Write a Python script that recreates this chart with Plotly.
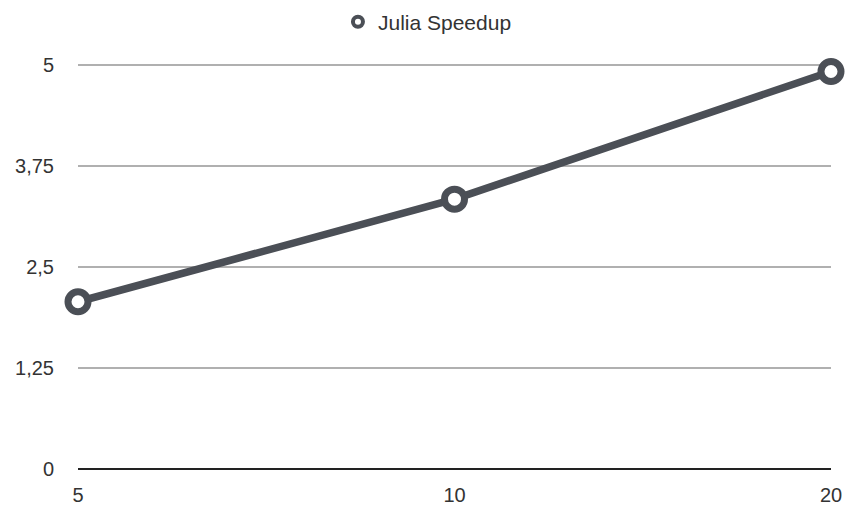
import plotly.graph_objects as go

# Thread counts (categorical x) and measured speedup
threads = ["5", "10", "20"]
speedup = [2.07, 3.34, 4.92]

y_ticks = [0, 1.25, 2.5, 3.75, 5]
y_tick_text = ["0", "1,25", "2,5", "3,75", "5"]

line_color = "#4b4f56"
text_color = "#333333"
font_family = "Liberation Sans, Arial, Helvetica, sans-serif"

fig = go.Figure()

# Main series: thick line with hollow circle markers
fig.add_trace(go.Scatter(
    x=threads, y=speedup,
    mode="lines+markers",
    line=dict(color=line_color, width=7.5),
    marker=dict(symbol="circle", size=20, color="white",
                line=dict(color=line_color, width=7)),
    cliponaxis=False,
    showlegend=False,
    name="Julia Speedup",
))

# Legend entry with a small hollow marker
fig.add_trace(go.Scatter(
    x=[None], y=[None],
    mode="markers",
    marker=dict(symbol="circle", size=10, color="white",
                line=dict(color=line_color, width=4)),
    name="Julia Speedup",
    showlegend=True,
))

fig.update_layout(
    width=847, height=513,
    margin=dict(l=78, r=16, t=61, b=44),
    paper_bgcolor="white",
    plot_bgcolor="white",
    font=dict(family=font_family, size=20, color=text_color),
    legend=dict(
        orientation="h",
        xref="container", yref="container",
        x=0.399, y=0.997, xanchor="left", yanchor="top",
        font=dict(size=21, color=text_color),
        itemwidth=30,
    ),
    xaxis=dict(
        type="category",
        range=[0, 2],
        automargin=False,
        showgrid=False,
        showline=False,
        zeroline=False,
        ticks="",
        ticklabelstandoff=12,
        tickfont=dict(size=20, color=text_color),
    ),
    yaxis=dict(
        range=[0, 5.05],
        automargin=False,
        tickvals=y_ticks,
        ticktext=y_tick_text,
        showgrid=True,
        gridcolor="#b0b0b0",
        gridwidth=2,
        zeroline=True,
        zerolinecolor="#222222",
        zerolinewidth=2,
        showline=False,
        ticks="",
        ticklabelstandoff=23,
        tickfont=dict(size=20, color=text_color),
    ),
)

fig.write_html("out.html")
